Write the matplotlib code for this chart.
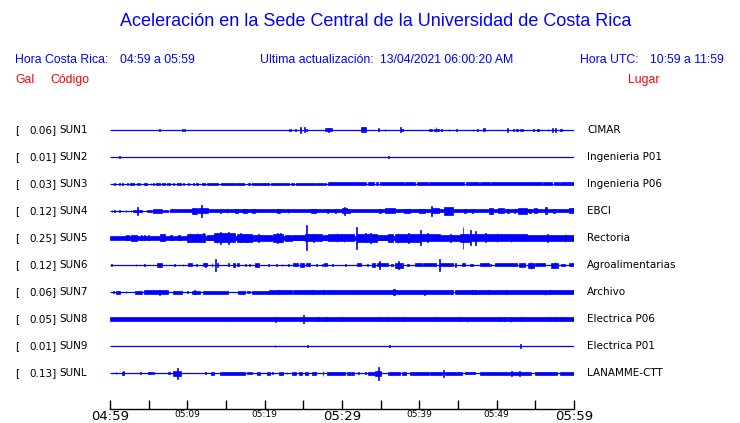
import matplotlib
matplotlib.use("Agg")
import matplotlib.pyplot as plt
import matplotlib.transforms as mtransforms

# estaciones (de arriba hacia abajo)
codigos = ["SUN1", "SUN2", "SUN3", "SUN4", "SUN5", "SUN6", "SUN7", "SUN8", "SUN9", "SUNL"]
lugares = ["CIMAR", "Ingenieria P01", "Ingenieria P06", "EBCI", "Rectoria",
           "Agroalimentarias", "Archivo", "Electrica P06", "Electrica P01", "LANAMME-CTT"]
pga = [0.06, 0.01, 0.03, 0.12, 0.25, 0.12, 0.06, 0.05, 0.01, 0.13]

tick_min = [0, 5, 10, 15, 20, 25, 30, 35, 40, 45, 50, 55, 60]
tick_labels = ["04:59", "", "05:09", "", "05:19", "", "05:29", "", "05:39", "", "05:49", "", "05:59"]

# envolvente: (minuto inicio, minuto fin, amplitud Gal)
sun1 = [(6.4, 6.4, .027), (9.35, 9.35, .027), (9.57, 9.57, .027), (23.2, 23.4, .02), (23.95, 23.95, .015),
        (24.57, 24.57, .066), (25.1, 25.1, .05), (25.4, 25.4, .025), (27.8, 28.7, .03), (28.2, 28.2, .045),
        (32.5, 33.1, .05), (34.6, 34.8, .03), (35.5, 35.5, .02), (37.5, 37.5, .05), (37.6, 37.9, .015),
        (41.3, 41.6, .025), (41.9, 42.5, .025), (42.1, 42.1, .05), (42.8, 42.8, .02), (43.8, 43.8, .02),
        (44.8, 44.8, .012), (46.9, 46.9, .012), (47.5, 47.5, .02), (48.2, 48.5, .03), (51.3, 51.5, .04),
        (52.1, 52.1, .02), (52.5, 52.7, .025), (53.0, 53.0, .02), (53.3, 53.3, .02), (54.7, 54.7, .02),
        (55.2, 55.2, .025), (55.4, 55.4, .02), (55.8, 55.8, .025), (56.6, 56.6, .012), (57.2, 57.2, .045),
        (57.6, 57.6, .04), (58.2, 58.5, .015)]
sun2 = [(1.2, 1.2, .012), (36.0, 36.0, .026)]
sun3 = [(0.56, 0.56, .022), (1.21, 1.21, .022), (1.6, 1.6, .022), (2.24, 2.24, .022), (2.59, 3.15, .028),
        (3.54, 3.54, .022), (3.79, 3.79, .022), (4.44, 4.78, .028), (5.26, 5.26, .022), (5.6, 5.6, .022),
        (5.95, 6.42, .028), (6.77, 7.11, .028), (7.41, 7.41, .022), (7.67, 7.67, .022), (8.19, 8.19, .022),
        (8.62, 9.18, .028), (9.4, 9.61, .028), (10.13, 10.26, .028), (10.78, 10.78, .022), (11.12, 11.34, .028),
        (11.85, 12.29, .028), (12.5, 14.0, .028), (14.35, 16.16, .028), (16.29, 17.37, .028), (17.89, 18.15, .028),
        (18.3, 20.5, .028), (20.8, 22.2, .028), (22.4, 23.15, .028), (23.4, 23.8, .028), (24.05, 26.5, .028),
        (26.7, 27.5, .028), (27.7, 27.9, .028), (28.15, 33.1, .03), (33.3, 34.2, .03), (34.4, 34.7, .03),
        (34.9, 38.0, .03), (38.2, 39.5, .03), (39.7, 41.1, .03), (41.3, 45.8, .03), (46.0, 47.7, .03),
        (47.9, 49.1, .03), (49.3, 55.8, .03), (56.0, 57.2, .03), (57.4, 58.0, .03), (58.2, 60.0, .03)]
sun4 = [(0.2, 0.2, .02), (0.56, 0.56, .02), (1.21, 1.21, .02), (2.03, 2.03, .015), (2.67, 2.67, .02),
        (3.02, 4.09, .025), (3.54, 3.54, .08), (4.74, 5.39, .025), (5.6, 6.68, .032), (6.9, 7.55, .025),
        (7.76, 60.0, .03), (10.65, 11.2, .06), (11.42, 12.72, .05), (11.81, 11.81, .12), (14.22, 14.22, .04),
        (15.09, 15.09, .04), (16.16, 16.6, .045), (17.24, 17.67, .04), (18.4, 18.8, .04), (21.55, 21.98, .044),
        (22.97, 22.97, .036), (25.95, 26.6, .04), (28.1, 28.1, .044), (29.1, 29.1, .04), (30.05, 30.6, .05),
        (30.3, 30.3, .08), (30.8, 31.0, .04), (34.8, 35.1, .045), (35.6, 36.9, .05), (38.0, 38.8, .04),
        (39.9, 40.7, .04), (41.5, 41.5, .1), (41.7, 42.5, .05), (43.2, 44.3, .075), (45.8, 46.0, .04),
        (46.8, 47.0, .045), (49.05, 49.5, .06), (50.2, 51.0, .05), (51.4, 51.6, .04), (52.2, 52.4, .04),
        (52.8, 53.9, .055), (54.2, 54.5, .045), (54.8, 55.2, .05), (56.2, 56.5, .07), (57.3, 57.5, .04),
        (59.3, 60.0, .05)]
sun5 = [(0.0, 60.0, .04), (2.1, 2.4, .05), (2.7, 3.45, .065), (4.0, 4.0, .05), (4.4, 4.4, .05), (4.9, 4.9, .05),
        (6.46, 7.11, .07), (7.76, 7.98, .05), (8.75, 9.05, .05), (9.9, 12.3, .075), (10.3, 10.3, .09),
        (11.2, 11.2, .09), (12.0, 12.0, .09), (12.5, 13.4, .05), (13.4, 16.2, .09), (13.8, 13.8, .1),
        (14.2, 14.2, .12), (15.3, 15.3, .12), (16.4, 18.3, .075), (16.8, 16.8, .09), (17.6, 17.6, .085),
        (18.3, 20.9, .06), (19.2, 19.2, .08), (21.1, 22.4, .08), (21.6, 21.6, .095), (22.0, 22.0, .09),
        (22.6, 23.5, .06), (23.7, 25.2, .05), (25.2, 27.4, .07), (25.4, 25.4, .25), (26.3, 26.3, .085),
        (27.6, 28.2, .05), (28.2, 31.5, .07), (29.3, 29.3, .09), (30.2, 30.2, .085), (31.8, 31.8, .22),
        (31.9, 34.5, .075), (33.0, 33.0, .09), (33.6, 33.6, .095), (34.5, 36.0, .05), (36.0, 36.6, .08),
        (36.8, 40.1, .08), (37.2, 37.2, .1), (38.5, 38.5, .095), (40.1, 40.1, .15), (40.1, 42.7, .07),
        (41.0, 41.0, .09), (42.7, 45.3, .06), (44.0, 44.0, .08), (45.3, 46.6, .08), (45.6, 45.6, .22),
        (46.6, 46.6, .15), (47.2, 47.2, .14), (46.6, 53.9, .07), (48.5, 48.5, .09), (50.0, 50.0, .09),
        (51.8, 51.8, .085), (53.9, 60.0, .06), (56.5, 56.5, .08), (58.8, 58.8, .075)]
sun6 = [(0.13, 0.13, .02), (3.32, 3.32, .025), (4.4, 4.4, .025), (6.1, 6.7, .04), (8.3, 8.3, .02),
        (9.4, 9.4, .025), (10.1, 10.56, .03), (11.1, 11.1, .024), (12.0, 12.6, .03), (12.3, 12.3, .04),
        (13.15, 13.15, .04), (13.58, 13.58, .12), (13.8, 14.0, .04), (15.2, 15.4, .03), (15.85, 16.1, .04),
        (16.4, 16.7, .03), (17.5, 17.5, .024), (18.0, 18.0, .024), (18.7, 19.3, .04), (20.4, 20.4, .024),
        (21.5, 21.5, .026), (22.2, 22.2, .02), (23.0, 23.0, .02), (23.6, 24.3, .03), (24.6, 25.1, .04),
        (25.4, 25.9, .03), (26.7, 26.7, .026), (27.4, 27.4, .024), (27.7, 28.0, .03), (28.7, 28.7, .024),
        (30.4, 30.4, .02), (31.9, 32.5, .03), (33.2, 33.2, .02), (33.9, 34.3, .04), (34.5, 36.0, .03),
        (34.8, 34.8, .08), (36.3, 36.6, .026), (36.8, 37.9, .05), (37.3, 37.3, .08), (38.4, 38.6, .026),
        (39.4, 40.3, .03), (40.5, 42.2, .03), (42.6, 42.6, .12), (42.7, 44.4, .03), (44.6, 44.8, .04),
        (45.5, 45.9, .03), (46.5, 47.0, .026), (47.8, 49.0, .03), (49.2, 49.2, .024), (49.8, 52.6, .03),
        (52.9, 53.7, .04), (54.1, 54.8, .05), (54.4, 54.4, .07), (55.0, 56.3, .03), (57.0, 57.9, .05),
        (57.5, 57.5, .06), (58.3, 58.8, .02), (59.3, 60.0, .03)]
sun7 = [(0.43, 0.43, .02), (0.78, 1.29, .03), (2.03, 2.03, .02), (3.2, 4.1, .03), (4.44, 7.55, .035),
        (6.34, 6.34, .05), (8.19, 9.27, .03), (10.0, 10.0, .024), (10.65, 11.64, .03), (10.9, 10.9, .046),
        (12.07, 15.3, .03), (16.6, 17.5, .03), (17.7, 18.1, .026), (18.3, 20.5, .03), (20.5, 23.5, .034),
        (21.77, 21.77, .045), (23.7, 25.6, .032), (25.6, 44.4, .032), (26.1, 26.1, .046), (27.6, 27.6, .045),
        (28.8, 28.8, .045), (31.25, 31.25, .04), (36.6, 36.9, .065), (40.6, 40.6, .05), (44.6, 60.0, .032),
        (46.8, 46.8, .04), (47.2, 47.2, .04), (48.9, 48.9, .04), (51.2, 51.2, .04), (56.2, 56.2, .05),
        (56.8, 56.8, .04), (58.4, 58.4, .04), (59.7, 59.7, .04)]
sun8 = [(0.0, 14.9, .04), (14.9, 60.0, .036), (21.34, 21.34, .05), (25.0, 25.0, .08), (26.9, 26.9, .04),
        (27.9, 27.9, .045), (29.9, 29.9, .045), (34.7, 34.7, .048), (35.8, 35.8, .045), (36.7, 36.7, .045),
        (37.9, 37.9, .048), (41.9, 41.9, .045), (45.1, 45.1, .045), (46.1, 46.1, .05), (46.9, 46.9, .045),
        (48.3, 48.3, .045), (50.3, 50.3, .045), (51.0, 51.0, .045), (51.8, 51.8, .05), (52.2, 52.2, .045),
        (53.2, 53.2, .045), (56.8, 56.8, .045), (57.6, 57.6, .045), (58.3, 58.3, .045)]
sun9 = [(21.3, 21.3, .02), (25.5, 25.5, .014), (36.1, 36.1, .014), (53.0, 53.0, .035)]
sunl = [(0.73, 0.73, .02), (1.6, 1.7, .03), (1.65, 1.65, .04), (3.87, 3.87, .015), (4.95, 5.4, .02),
        (5.6, 5.6, .02), (7.5, 7.76, .024), (8.2, 9.2, .05), (8.7, 8.7, .11), (12.3, 12.3, .02),
        (13.06, 13.4, .03), (14.2, 17.45, .03), (17.7, 18.3, .026), (18.96, 19.4, .03), (20.3, 20.7, .03),
        (21.0, 21.0, .02), (21.8, 22.4, .03), (22.85, 22.85, .024), (23.5, 24.1, .03), (24.4, 24.8, .03),
        (25.2, 25.6, .03), (26.1, 26.7, .03), (27.5, 27.5, .05), (28.0, 30.4, .03), (30.6, 31.5, .03),
        (32.1, 32.1, .024), (33.0, 33.0, .024), (33.4, 34.3, .03), (34.3, 35.1, .05), (34.7, 34.7, .13),
        (36.0, 37.5, .03), (37.7, 38.3, .03), (38.8, 41.2, .03), (41.4, 42.9, .03), (43.1, 43.1, .07),
        (43.3, 45.5, .03), (45.9, 47.2, .024), (47.8, 51.7, .03), (51.85, 51.85, .05), (51.9, 54.5, .03),
        (52.9, 52.9, .05), (55.0, 57.8, .03), (58.2, 60.0, .03)]
trazas = [sun1, sun2, sun3, sun4, sun5, sun6, sun7, sun8, sun9, sunl]

AZUL = (0, 0, 1)
ROJO = (1, 0, 0)
ESCALA = 50 / 27  # filas por Gal (50 px/Gal, 27 px entre filas)

W, H = 740, 423
fig = plt.figure(figsize=(W / 100, H / 100), dpi=100)


def fx(px):
    return px / W


def fy(py):
    return 1 - py / H


# ejes de las trazas
ax = fig.add_axes([fx(110), fy(409), fx(574) - fx(110), fy(110) - fy(409)])
ax.set_xlim(0, 60)
ax.set_ylim(-9 - 36 / 27, 20 / 27)

for i, seg in enumerate(trazas):
    y0 = -i
    ax.plot([0, 60], [y0, y0], color=AZUL, lw=0.9, solid_capstyle="butt")
    for t0, t1, a in seg:
        h = a * ESCALA
        ax.bar(t0, 2 * h, width=max(t1 - t0, 0.1), bottom=y0 - h, align="edge",
               color=AZUL, edgecolor=AZUL, linewidth=0.5)

for s in ["top", "left", "right"]:
    ax.spines[s].set_visible(False)
ax.spines["bottom"].set_linewidth(1.0)
ax.set_yticks([])
ax.set_xticks(tick_min)
ax.set_xticklabels(tick_labels)
ax.tick_params(axis="x", direction="in", length=6.5, width=1.0, pad=1)
for lbl, t in zip(ax.get_xticklabels(), tick_min):
    lbl.set_fontsize(9.5 if t % 30 == 0 else 6.5)

# etiquetas de cada fila
tr = mtransforms.blended_transform_factory(fig.transFigure, ax.transData)
for i in range(len(codigos)):
    y0 = -i
    ax.text(fx(15), y0, "[", transform=tr, fontsize=7.5, va="center", ha="left")
    ax.text(fx(57), y0, "%.2f]" % pga[i], transform=tr, fontsize=7.5, va="center", ha="right")
    ax.text(fx(59), y0, codigos[i], transform=tr, fontsize=7.5, va="center", ha="left")
    ax.text(fx(587), y0, lugares[i], transform=tr, fontsize=7.5, va="center", ha="left")

# encabezado
fam = "Liberation Sans"
fig.text(fx(376), fy(22), "Aceleración en la Sede Central de la Universidad de Costa Rica",
         ha="center", va="center", fontsize=13, color=AZUL, family=fam)
fs = 8.8
fig.text(fx(15), fy(60), "Hora Costa Rica:", va="center", fontsize=fs, color=AZUL, family=fam)
fig.text(fx(120), fy(60), "04:59 a 05:59", va="center", fontsize=fs, color=AZUL, family=fam)
fig.text(fx(260), fy(60), "Ultima actualización:", va="center", fontsize=fs, color=AZUL, family=fam)
fig.text(fx(380), fy(60), "13/04/2021 06:00:20 AM", va="center", fontsize=fs, color=AZUL, family=fam)
fig.text(fx(580), fy(60), "Hora UTC:", va="center", fontsize=fs, color=AZUL, family=fam)
fig.text(fx(650), fy(60), "10:59 a 11:59", va="center", fontsize=fs, color=AZUL, family=fam)
fig.text(fx(15), fy(80), "Gal", va="center", fontsize=fs, color=ROJO, family=fam)
fig.text(fx(50), fy(80), "Código", va="center", fontsize=fs, color=ROJO, family=fam)
fig.text(fx(628), fy(80), "Lugar", va="center", fontsize=fs, color=ROJO, family=fam)

fig.savefig("out.png", dpi=100)
plt.close(fig)
